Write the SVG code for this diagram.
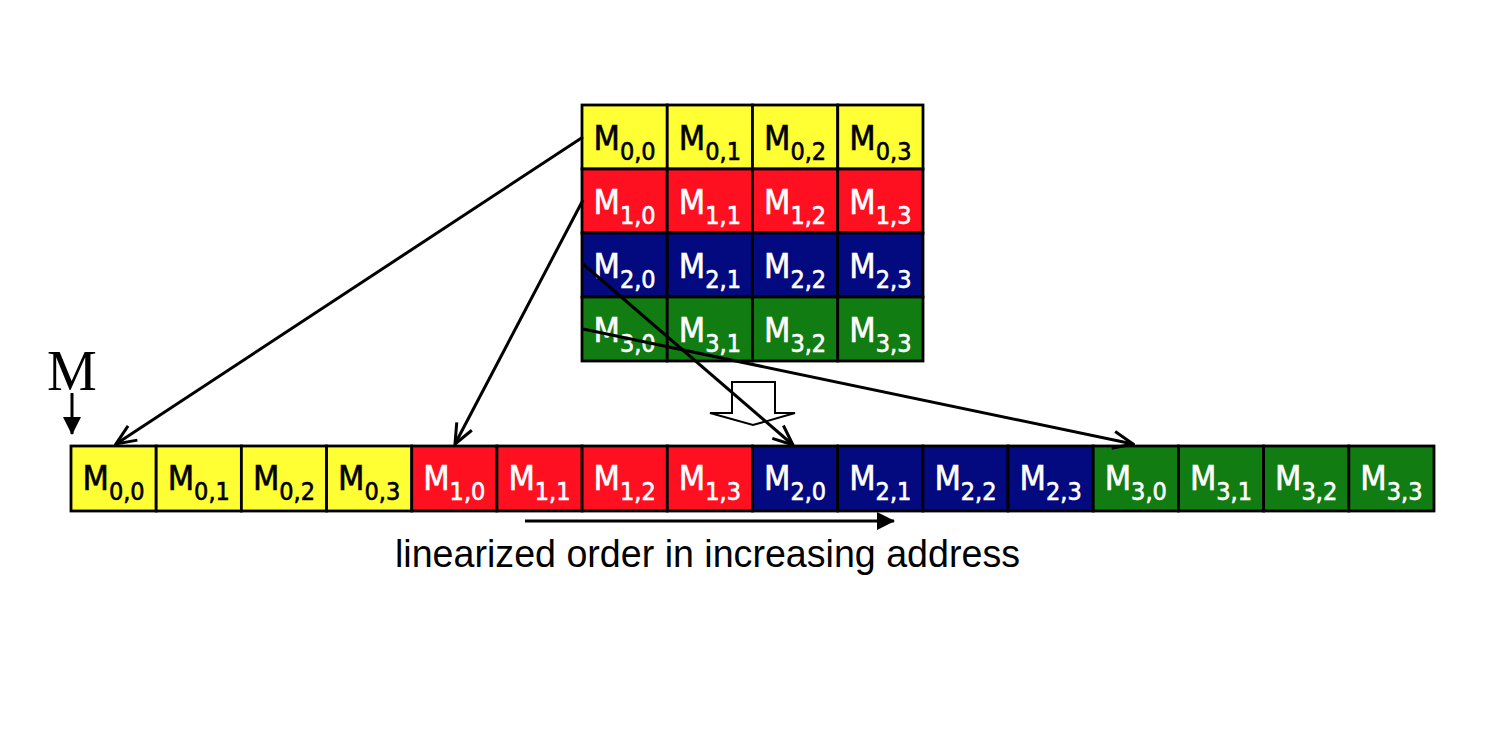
<svg xmlns="http://www.w3.org/2000/svg" width="1498" height="736" viewBox="0 0 1498 736">
<defs>
<style>
.cell{stroke:#000;stroke-width:2.8}
.y{fill:#FFFF33}.r{fill:#FF1020}.b{fill:#030A80}.g{fill:#117C12}
.lbl{font-family:"DejaVu Sans Condensed","DejaVu Sans",sans-serif;font-stretch:condensed;font-size:34px;text-anchor:middle;stroke-width:0.6}
.sub{font-size:25px}
.dk{fill:#000;stroke:#000}.wt{fill:#fff;stroke:#fff}
.conn{stroke:#000;stroke-width:3;fill:none}
</style>
<marker id="open" viewBox="-23 -11 25 22" markerWidth="25" markerHeight="22" refX="0" refY="0" orient="auto" markerUnits="userSpaceOnUse">
<path d="M-20,-8.5 L0,0 L-20,8.5" fill="none" stroke="#000" stroke-width="3"/>
</marker>
<marker id="solid" viewBox="0 -10 18 20" markerWidth="18" markerHeight="20" refX="17" refY="0" orient="auto" markerUnits="userSpaceOnUse">
<path d="M0,-9 L18,0 L0,9 z" fill="#000"/>
</marker>
</defs>
<rect width="1498" height="736" fill="#fff"/>

<g id="matrix">
<g id="m00"><rect class="cell y" x="582" y="105" width="85.25" height="64"/><text class="lbl dk" x="624.6" y="150">M<tspan class="sub" dy="10">0,0</tspan></text></g>
<g id="m01"><rect class="cell y" x="667.25" y="105" width="85.25" height="64"/><text class="lbl dk" x="709.9" y="150">M<tspan class="sub" dy="10">0,1</tspan></text></g>
<g id="m02"><rect class="cell y" x="752.5" y="105" width="85.25" height="64"/><text class="lbl dk" x="795.1" y="150">M<tspan class="sub" dy="10">0,2</tspan></text></g>
<g id="m03"><rect class="cell y" x="837.75" y="105" width="85.25" height="64"/><text class="lbl dk" x="880.4" y="150">M<tspan class="sub" dy="10">0,3</tspan></text></g>
<g id="m10"><rect class="cell r" x="582" y="169" width="85.25" height="64"/><text class="lbl wt" x="624.6" y="214">M<tspan class="sub" dy="10">1,0</tspan></text></g>
<g id="m11"><rect class="cell r" x="667.25" y="169" width="85.25" height="64"/><text class="lbl wt" x="709.9" y="214">M<tspan class="sub" dy="10">1,1</tspan></text></g>
<g id="m12"><rect class="cell r" x="752.5" y="169" width="85.25" height="64"/><text class="lbl wt" x="795.1" y="214">M<tspan class="sub" dy="10">1,2</tspan></text></g>
<g id="m13"><rect class="cell r" x="837.75" y="169" width="85.25" height="64"/><text class="lbl wt" x="880.4" y="214">M<tspan class="sub" dy="10">1,3</tspan></text></g>
<g id="m20"><rect class="cell b" x="582" y="233" width="85.25" height="64"/><text class="lbl wt" x="624.6" y="278">M<tspan class="sub" dy="10">2,0</tspan></text></g>
<g id="m21"><rect class="cell b" x="667.25" y="233" width="85.25" height="64"/><text class="lbl wt" x="709.9" y="278">M<tspan class="sub" dy="10">2,1</tspan></text></g>
<g id="m22"><rect class="cell b" x="752.5" y="233" width="85.25" height="64"/><text class="lbl wt" x="795.1" y="278">M<tspan class="sub" dy="10">2,2</tspan></text></g>
<g id="m23"><rect class="cell b" x="837.75" y="233" width="85.25" height="64"/><text class="lbl wt" x="880.4" y="278">M<tspan class="sub" dy="10">2,3</tspan></text></g>
<g id="m30"><rect class="cell g" x="582" y="297" width="85.25" height="64"/><text class="lbl wt" x="624.6" y="342">M<tspan class="sub" dy="10">3,0</tspan></text></g>
<g id="m31"><rect class="cell g" x="667.25" y="297" width="85.25" height="64"/><text class="lbl wt" x="709.9" y="342">M<tspan class="sub" dy="10">3,1</tspan></text></g>
<g id="m32"><rect class="cell g" x="752.5" y="297" width="85.25" height="64"/><text class="lbl wt" x="795.1" y="342">M<tspan class="sub" dy="10">3,2</tspan></text></g>
<g id="m33"><rect class="cell g" x="837.75" y="297" width="85.25" height="64"/><text class="lbl wt" x="880.4" y="342">M<tspan class="sub" dy="10">3,3</tspan></text></g>
</g>

<g id="linear">
<g id="l0"><rect class="cell y" x="71" y="446" width="85.19" height="65"/><text class="lbl dk" x="113.6" y="490">M<tspan class="sub" dy="10">0,0</tspan></text></g>
<g id="l1"><rect class="cell y" x="156.19" y="446" width="85.19" height="65"/><text class="lbl dk" x="198.8" y="490">M<tspan class="sub" dy="10">0,1</tspan></text></g>
<g id="l2"><rect class="cell y" x="241.38" y="446" width="85.19" height="65"/><text class="lbl dk" x="284.0" y="490">M<tspan class="sub" dy="10">0,2</tspan></text></g>
<g id="l3"><rect class="cell y" x="326.56" y="446" width="85.19" height="65"/><text class="lbl dk" x="369.2" y="490">M<tspan class="sub" dy="10">0,3</tspan></text></g>
<g id="l4"><rect class="cell r" x="411.75" y="446" width="85.19" height="65"/><text class="lbl wt" x="454.3" y="490">M<tspan class="sub" dy="10">1,0</tspan></text></g>
<g id="l5"><rect class="cell r" x="496.94" y="446" width="85.19" height="65"/><text class="lbl wt" x="539.5" y="490">M<tspan class="sub" dy="10">1,1</tspan></text></g>
<g id="l6"><rect class="cell r" x="582.13" y="446" width="85.19" height="65"/><text class="lbl wt" x="624.7" y="490">M<tspan class="sub" dy="10">1,2</tspan></text></g>
<g id="l7"><rect class="cell r" x="667.31" y="446" width="85.19" height="65"/><text class="lbl wt" x="709.9" y="490">M<tspan class="sub" dy="10">1,3</tspan></text></g>
<g id="l8"><rect class="cell b" x="752.5" y="446" width="85.19" height="65"/><text class="lbl wt" x="795.1" y="490">M<tspan class="sub" dy="10">2,0</tspan></text></g>
<g id="l9"><rect class="cell b" x="837.69" y="446" width="85.19" height="65"/><text class="lbl wt" x="880.3" y="490">M<tspan class="sub" dy="10">2,1</tspan></text></g>
<g id="l10"><rect class="cell b" x="922.88" y="446" width="85.19" height="65"/><text class="lbl wt" x="965.5" y="490">M<tspan class="sub" dy="10">2,2</tspan></text></g>
<g id="l11"><rect class="cell b" x="1008.06" y="446" width="85.19" height="65"/><text class="lbl wt" x="1050.7" y="490">M<tspan class="sub" dy="10">2,3</tspan></text></g>
<g id="l12"><rect class="cell g" x="1093.25" y="446" width="85.19" height="65"/><text class="lbl wt" x="1135.8" y="490">M<tspan class="sub" dy="10">3,0</tspan></text></g>
<g id="l13"><rect class="cell g" x="1178.44" y="446" width="85.19" height="65"/><text class="lbl wt" x="1221.0" y="490">M<tspan class="sub" dy="10">3,1</tspan></text></g>
<g id="l14"><rect class="cell g" x="1263.63" y="446" width="85.19" height="65"/><text class="lbl wt" x="1306.2" y="490">M<tspan class="sub" dy="10">3,2</tspan></text></g>
<g id="l15"><rect class="cell g" x="1348.81" y="446" width="85.19" height="65"/><text class="lbl wt" x="1391.4" y="490">M<tspan class="sub" dy="10">3,3</tspan></text></g>
</g>

<g id="m-label">
<text x="47" y="390" font-family="'Liberation Serif',serif" font-size="56" fill="#000">M</text>
</g>

<g id="block-arrow">
<polygon points="732,382 775,382 775,413 795,413 753,425 710,413 732,413" fill="#fff" stroke="#000" stroke-width="2"/>
</g>

<g id="connectors">
<line class="conn" x1="72" y1="393" x2="72" y2="434" marker-end="url(#solid)"/>
<line class="conn" x1="583" y1="137" x2="116" y2="444" marker-end="url(#open)"/>
<line class="conn" x1="583" y1="200" x2="455" y2="444" marker-end="url(#open)"/>
<line class="conn" x1="583" y1="264" x2="793" y2="445" marker-end="url(#open)"/>
<line class="conn" x1="583" y1="329" x2="1133" y2="444" marker-end="url(#open)"/>
<line class="conn" x1="525" y1="521" x2="894" y2="521" stroke-width="3.2" marker-end="url(#solid)"/>
</g>

<g id="caption">
<text x="395" y="567" font-family="'Liberation Sans',Arial,sans-serif" font-size="38" textLength="625" lengthAdjust="spacingAndGlyphs" fill="#000">linearized order in increasing address</text>
</g>
</svg>
